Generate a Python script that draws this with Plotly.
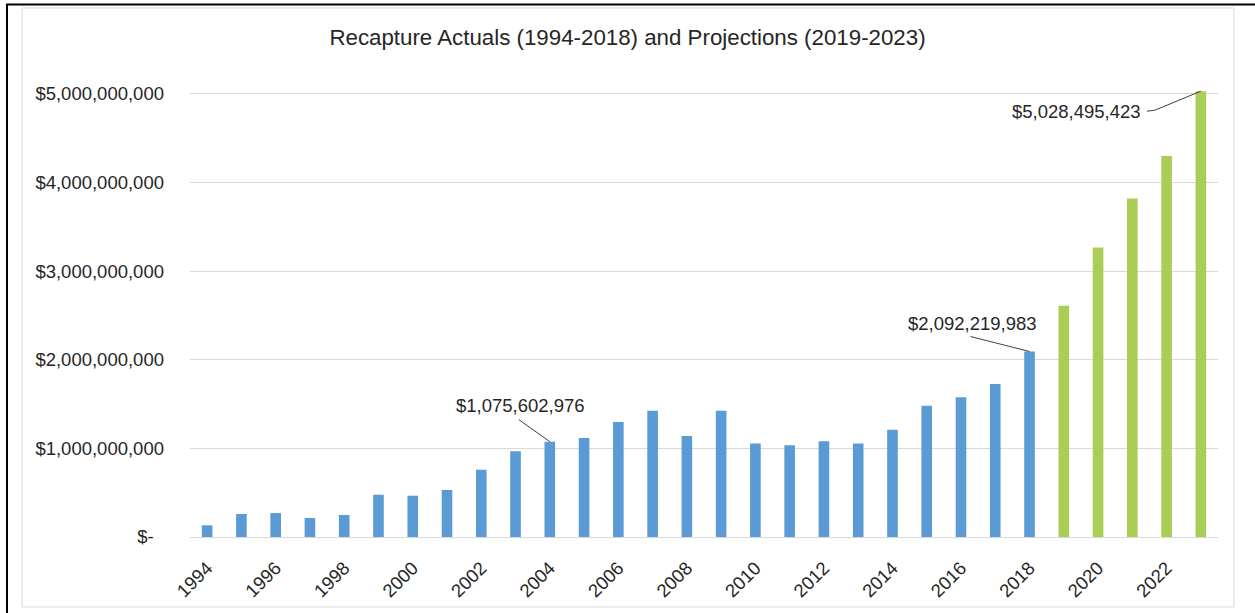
import plotly.graph_objects as go

actual_years = list(range(1994, 2019))
proj_years = list(range(2019, 2024))
actual_values = [0.132e9, 0.259e9, 0.270e9, 0.214e9, 0.248e9, 0.477e9, 0.466e9, 0.530e9,
                 0.759e9, 0.966e9, 1075602976, 1.116e9, 1.297e9, 1.424e9, 1.139e9, 1.424e9,
                 1.056e9, 1.034e9, 1.079e9, 1.056e9, 1.210e9, 1.480e9, 1.575e9, 1.725e9,
                 2092219983]
proj_values = [2.608e9, 3.266e9, 3.818e9, 4.299e9, 5028495423]
tick_years = list(range(1994, 2024, 2))
y_tickvals = [0, 1e9, 2e9, 3e9, 4e9, 5e9]
y_ticktext = ["$-\u00a0\u00a0", "$1,000,000,000", "$2,000,000,000", "$3,000,000,000",
              "$4,000,000,000", "$5,000,000,000"]
callouts = [(2004, 1075602976, "$1,075,602,976"),
            (2018, 2092219983, "$2,092,219,983"),
            (2023, 5028495423, "$5,028,495,423")]

W, H = 1255, 613
L, R, T, B = 190, 37, 76, 76
FONT = "Liberation Sans"
TXT = "#262626"

fig = go.Figure()
fig.add_trace(go.Bar(x=actual_years, y=actual_values, marker_color="#5B9BD5",
                     marker_line_width=0, name="Actuals", width=0.31))
fig.add_trace(go.Bar(x=proj_years, y=proj_values, marker_color="#A9CD55",
                     marker_line_width=0, name="Projections", width=0.31))

def px2paper(px, py):
    return (px - L) / (W - L - R), (H - B - py) / (H - T - B)

# text offsets (pixels) and leader-line paths (pixels relative to bar top)
text_off = [(-29, -36), (-57, -28), (-124, 20)]
lines = [[(0, 0), (-31, 22)], [(0, 0), (-59, 15)], [(0, 0), (-46, -19), (-54, -20)]]
for (cat, val, label), (ax, ay), pts in zip(callouts, text_off, lines):
    fig.add_annotation(x=cat, y=val, xref="x", yref="y", text=label, showarrow=True,
                       arrowcolor="rgba(0,0,0,0)", ax=ax, ay=ay,
                       font=dict(family=FONT, size=18.5, color=TXT))
    path = "M" + " L".join(f"{p[0]},{p[1]}" for p in pts)
    fig.add_shape(type="path", xref="x", yref="y", xsizemode="pixel", ysizemode="pixel",
                  xanchor=cat, yanchor=val, path=path,
                  line=dict(color="#404040", width=1))

# chart-area border and frame edges
x0, y0 = px2paper(22, 607)
x1, y1 = px2paper(1234, 8)
fig.add_shape(type="rect", xref="paper", yref="paper", x0=x0, y0=y0, x1=x1, y1=y1,
              line=dict(color="#d9d9d9", width=1), layer="below")
fx, fy0 = px2paper(7, 613)
_, fy1 = px2paper(7, 4.5)
fig.add_shape(type="line", xref="paper", yref="paper", x0=fx, x1=fx, y0=fy0, y1=fy1,
              line=dict(color="black", width=2))
gx0, gy = px2paper(6, 4.5)
gx1, _ = px2paper(1255, 4.5)
fig.add_shape(type="line", xref="paper", yref="paper", x0=gx0, x1=gx1, y0=gy, y1=gy,
              line=dict(color="black", width=2))

fig.update_layout(
    width=W, height=H,
    margin=dict(l=L, r=R, t=T, b=B),
    paper_bgcolor="white", plot_bgcolor="white",
    showlegend=False,
    barmode="overlay",
    title=dict(text="Recapture Actuals (1994-2018) and Projections (2019-2023)",
               x=0.5, xref="container", xanchor="center", y=1 - 37 / H, yanchor="middle",
               font=dict(family=FONT, size=22.3, color=TXT)),
    font=dict(family=FONT, size=18.5, color=TXT),
)
fig.update_xaxes(range=[1993.5, 2023.5], tickmode="array", tickvals=tick_years,
                 ticktext=[str(y) for y in tick_years],
                 tickangle=-45, showgrid=False, showline=True, linecolor="#d9d9d9",
                 linewidth=1, ticks="", ticklabelstandoff=12, zeroline=False,
                 tickfont=dict(family=FONT, size=18.5, color=TXT))
fig.update_yaxes(range=[0, 5.2e9], tickmode="array", tickvals=y_tickvals,
                 ticktext=y_ticktext, showgrid=True, gridcolor="#d9d9d9", gridwidth=1,
                 zeroline=False, showline=False, ticks="", ticklabelstandoff=25,
                 tickfont=dict(family=FONT, size=18.5, color=TXT))

fig.write_html("out.html", config={"displayModeBar": False},
               post_script="document.body.style.margin='0';document.body.style.overflow='hidden';")
